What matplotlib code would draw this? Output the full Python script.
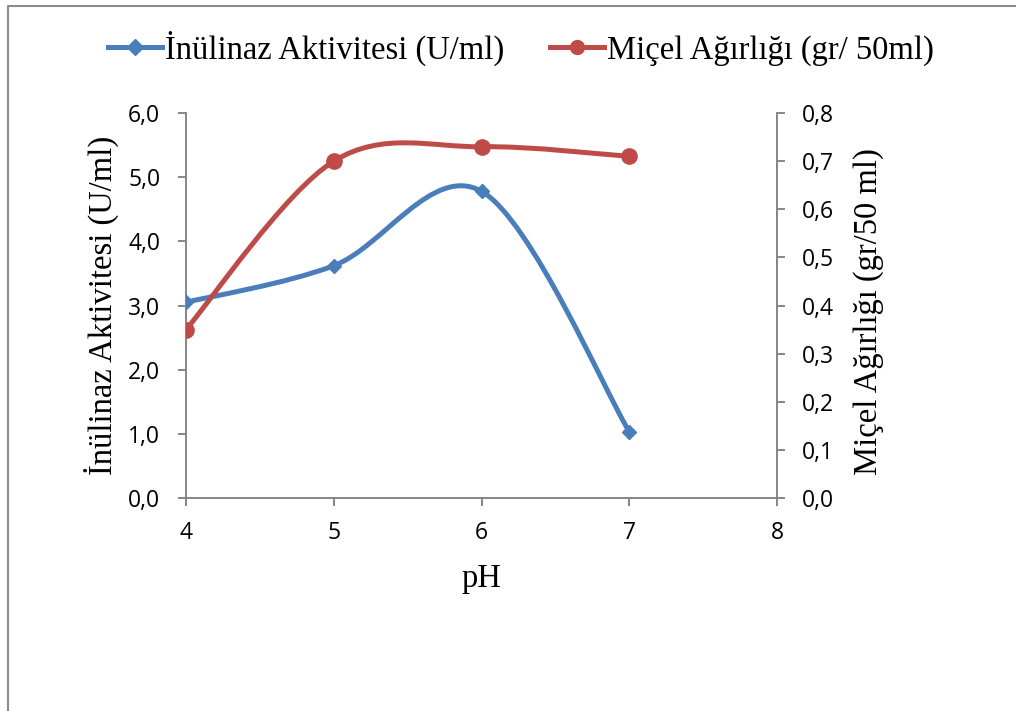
import matplotlib
matplotlib.use("Agg")
import matplotlib.pyplot as plt
from matplotlib.path import Path
from matplotlib.patches import PathPatch
from matplotlib.lines import Line2D
from matplotlib.ticker import FuncFormatter, MultipleLocator

# data
ph = [4, 5, 6, 7]
inulinaz = [3.05, 3.62, 4.78, 1.03]   # U/ml
micel = [0.35, 0.70, 0.73, 0.71]      # gr/50 ml

blue = "#4A7EBB"
red = "#BE4B48"
grey = "#868686"
serif = "Liberation Serif"
sans = "Open Sans"
lw = 3.6


def smooth_path(xs, ys):
    # Excel-style smoothed line: Catmull-Rom turned into cubic Bezier pieces
    pts = list(zip(xs, ys))
    verts = [pts[0]]
    codes = [Path.MOVETO]
    n = len(pts)
    for i in range(n - 1):
        p0 = pts[i - 1] if i > 0 else pts[i]
        p1 = pts[i]
        p2 = pts[i + 1]
        p3 = pts[i + 2] if i + 2 < n else pts[i + 1]
        c1 = (p1[0] + (p2[0] - p0[0]) / 6, p1[1] + (p2[1] - p0[1]) / 6)
        c2 = (p2[0] - (p3[0] - p1[0]) / 6, p2[1] - (p3[1] - p1[1]) / 6)
        verts += [c1, c2, p2]
        codes += [Path.CURVE4] * 3
    return Path(verts, codes)


fig = plt.figure(figsize=(10.16, 7.11), dpi=100)
ax = fig.add_axes([0.183, 0.2996, 0.582, 0.5414])
ax2 = ax.twinx()

ax.add_patch(PathPatch(smooth_path(ph, inulinaz), fill=False, ec=blue, lw=lw,
                       capstyle="round", joinstyle="round", zorder=3))
ax.plot(ph, inulinaz, ls="none", marker="D", ms=7.5, color=blue, zorder=4)

ax2.add_patch(PathPatch(smooth_path(ph, micel), fill=False, ec=red, lw=lw,
                        capstyle="round", joinstyle="round", zorder=3))
ax2.plot(ph, micel, ls="none", marker="o", ms=11, color=red, zorder=4)

ax.set_xlim(4, 8)
ax.set_ylim(0, 6)
ax2.set_ylim(0, 0.8)
ax.xaxis.set_major_locator(MultipleLocator(1))
ax.yaxis.set_major_locator(MultipleLocator(1))
ax2.yaxis.set_major_locator(MultipleLocator(0.1))
ax.yaxis.set_major_formatter(FuncFormatter(lambda v, p: f"{v:.1f}".replace(".", ",")))
ax2.yaxis.set_major_formatter(FuncFormatter(lambda v, p: f"{v:.1f}".replace(".", ",")))
ax.xaxis.set_major_formatter(FuncFormatter(lambda v, p: f"{v:.0f}"))

for a in (ax, ax2):
    a.spines["top"].set_visible(False)
    for s in ("left", "right", "bottom"):
        a.spines[s].set_color(grey)
        a.spines[s].set_linewidth(1.4)
    a.tick_params(colors=grey, labelcolor="black", width=1.4, length=5.5,
                  labelsize=16.5, direction="out")
    for lab in a.get_xticklabels() + a.get_yticklabels():
        lab.set_fontfamily(sans)
ax2.spines["left"].set_visible(False)
ax2.spines["bottom"].set_visible(False)
ax.spines["right"].set_visible(False)
ax.tick_params(axis="x", pad=11)
ax.tick_params(axis="y", pad=13)
ax2.tick_params(axis="y", pad=12)

ax.set_xlabel("pH", fontfamily=serif, fontsize=23.5)
ax.set_ylabel("İnülinaz Aktivitesi (U/ml)", fontfamily=serif, fontsize=23.5)
ax2.set_ylabel("Miçel Ağırlığı (gr/50 ml)", fontfamily=serif, fontsize=23.5)
ax.xaxis.set_label_coords(0.5, -0.17)
ax.yaxis.set_label_coords(-0.113, 0.5)
ax2.yaxis.set_label_coords(1.128, 0.485)

handles = [
    Line2D([], [], color=blue, lw=lw, marker="D", ms=8),
    Line2D([], [], color=red, lw=lw, marker="o", ms=10),
]
fig.legend(handles, ["İnülinaz Aktivitesi (U/ml)", "Miçel Ağırlığı (gr/ 50ml)"],
           loc="center", bbox_to_anchor=(0.513, 0.932), ncol=2, frameon=False,
           prop={"family": serif, "size": 23.5}, handlelength=1.65,
           handletextpad=0.1, columnspacing=1.4, borderpad=0, borderaxespad=0)

# outer chart-area border (only left and top are inside the image)
fig.add_artist(Line2D([8 / 1016, 8 / 1016, 1.0], [0.0, 1 - 6 / 711, 1 - 6 / 711],
                      transform=fig.transFigure, color="#8C8C8C", lw=1.5))

fig.savefig("out.png", dpi=100)
